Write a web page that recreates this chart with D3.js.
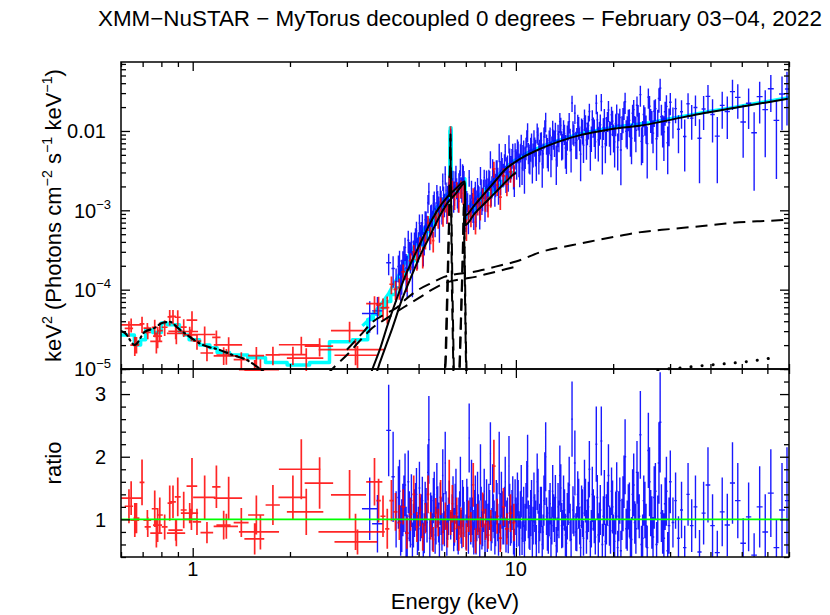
<!DOCTYPE html>
<html><head><meta charset="utf-8">
<script src="https://cdn.jsdelivr.net/npm/d3@7/dist/d3.min.js"></script>
<style>
body{margin:0;background:#fff}
svg{font-family:"Liberation Sans",Arial,Helvetica,sans-serif}
</style></head>
<body><svg id="c" width="830" height="615"></svg>
<script>
// ---------------- DATA ----------------
const titleText = "XMM\u2212NuSTAR \u2212 MyTorus decoupled 0 degrees \u2212 February 03\u221204, 2022";
const xLabel = "Energy (keV)";
const yTopLabel = [["keV",0],["2",1],[" (Photons cm",0],["\u22122",1],[" s",0],["\u22121",1],[" keV",0],["\u22121",1],[")",0]];
const yBotLabel = "ratio";
const xTickVals = [1, 10];
const xTickText = ["1", "10"];
const yTopTickVals = [0.01, 1e-3, 1e-4, 1e-5];
const yTopTickText = [[["0.01",0]], [["10",0],["\u22123",1]], [["10",0],["\u22124",1]], [["10",0],["\u22125",1]]];
const yBotTickVals = [1, 2, 3];
const yBotTickText = ["1", "2", "3"];

// spectral bins: [E (keV), half width (keV), E^2 f(E), data/model ratio, ratio error]
const xmmSoft = [
[0.645,0.048,3.6e-5,1.34,0.27],[0.635,0.019,3.26e-5,1.21,0.27],[0.662,0.021,2.0e-5,0.99,0.27],
[0.670,0.014,2.05e-5,1.02,0.24],[0.697,0.012,3.7e-5,1.59,0.365],[0.724,0.02,3.27e-5,0.99,0.16],
[0.726,0.016,2.9e-5,0.88,0.16],[0.772,0.033,2.23e-5,0.78,0.23],[0.763,0.016,3.34e-5,1.17,0.29],
[0.791,0.017,3.05e-5,1.07,0.28],[0.779,0.025,2.6e-5,0.91,0.27],[0.819,0.017,3.36e-5,0.88,0.2],
[0.849,0.013,4.54e-5,1.26,0.28],[0.869,0.018,4.6e-5,1.28,0.26],[0.890,0.058,2.81e-5,0.78,0.21],
[0.899,0.019,4.49e-5,1.36,0.31],[0.886,0.045,2.99e-5,0.83,0.17],[0.938,0.02,3.38e-5,1.15,0.29],
[0.995,0.038,4.12e-5,1.53,0.45],[0.979,0.06,2.97e-5,1.10,0.16],[0.991,0.047,2.69e-5,1.0,0.17],
[1.031,0.031,2.24e-5,0.96,0.21],[1.089,0.086,2.72e-5,1.35,0.35],[1.107,0.05,1.59e-5,0.79,0.17],
[1.184,0.035,2.5e-5,1.52,0.34],[1.292,0.13,2.01e-5,1.34,0.34],[1.247,0.063,1.5e-5,0.91,0.23],
[1.271,0.11,1.46e-5,0.89,0.2],[1.414,0.075,1.31e-5,0.95,0.23],[1.62,0.23,9.8e-6,0.80,0.28],
[1.555,0.11,9.5e-6,0.69,0.25],[1.574,0.09,1.47e-5,1.07,0.31],[1.771,0.09,1.51e-5,1.23,0.32],
[2.042,0.2,1.52e-5,1.35,0.35],[2.168,0.32,2.02e-5,1.80,0.48],[2.246,0.29,1.37e-5,1.12,0.37],
[2.47,0.25,1.94e-5,1.58,0.41],[3.058,0.38,3.05e-5,1.39,0.40],[3.19,0.74,1.75e-5,0.80,0.29],
[3.236,0.49,1.49e-5,0.64,0.2],[3.652,0.21,6.68e-5,1.60,0.38]
];
const xmmHard = [
[3.76,0.06,6.4e-5,1.30,0.35],[3.88,0.07,5.9e-5,1.05,0.33],[4.00,0.06,5.95e-5,0.85,0.32],
[4.12,0.06,1.17e-4,1.30,0.33],[4.24,0.06,1.01e-4,1.12,0.30],[4.36,0.06,1.06e-4,0.95,0.28],
[4.48,0.06,1.68e-4,1.20,0.28],[4.60,0.06,1.37e-4,0.78,0.25],[4.72,0.06,2.32e-4,1.08,0.26],
[4.83,0.05,3.0e-4,1.40,0.30],[4.94,0.05,2.38e-4,0.88,0.24],[5.05,0.05,3.8e-4,1.15,0.26],
[5.15,0.05,2.66e-4,0.72,0.22],[5.25,0.05,4.18e-4,1.02,0.24],[5.35,0.05,7.0e-4,1.40,0.30],
[5.45,0.05,4.95e-4,0.90,0.22],[5.55,0.05,4.15e-4,0.68,0.20],[5.65,0.05,8.1e-4,1.10,0.24],
[5.75,0.05,7.6e-4,0.95,0.22],[5.85,0.05,1.19e-3,1.35,0.28],[5.95,0.05,8.3e-4,0.80,0.20],
[6.05,0.05,1.19e-3,1.05,0.22],[6.14,0.04,9.2e-4,0.75,0.20],[6.22,0.03,2.2e-3,1.60,0.35],
[6.28,0.03,9.5e-3,0.95,0.20],[6.36,0.05,1.9e-3,1.25,0.30],[6.46,0.05,1.36e-3,0.85,0.22],
[6.56,0.05,1.85e-3,1.10,0.25],[6.66,0.05,1.3e-3,0.70,0.20],[6.76,0.05,1.9e-3,0.95,0.24],
[6.87,0.05,1.64e-3,0.78,0.22],[7.03,0.05,5.9e-4,0.72,0.22],[7.14,0.05,9.45e-4,1.05,0.25],
[7.26,0.06,8.4e-4,0.88,0.24],[7.38,0.06,1.55e-3,1.55,0.35],[7.50,0.06,7.1e-4,0.66,0.20],
[7.62,0.06,1.15e-3,1.00,0.25],[7.76,0.07,1.02e-3,0.82,0.22],[7.90,0.07,1.52e-3,1.15,0.28],
[8.05,0.08,1.32e-3,0.92,0.25],[8.20,0.08,1.15e-3,0.75,0.22],[8.36,0.08,1.49e-3,0.90,0.25],
[8.55,0.10,3.33e-3,1.85,0.42],[8.75,0.10,2.07e-3,1.05,0.28],[8.95,0.10,1.47e-3,0.70,0.22],
[9.15,0.10,2.72e-3,1.20,0.30],[9.38,0.12,2.13e-3,0.85,0.25],[9.62,0.12,3.05e-3,1.10,0.30],
[9.86,0.12,2.85e-3,0.95,0.30]
];
const nustarLow = [
[3.53,0.19,5.0e-5,1.17,0.5],[3.73,0.14,5.4e-5,0.93,0.46],[4.04,0.07,2.18e-4,2.42,0.73],
[4.17,0.05,1.85e-4,1.68,0.72],[4.26,0.04,1.27e-4,1.0,0.45],[4.33,0.035,1.96e-4,1.35,0.5],
[4.40,0.035,1.39e-4,0.82,0.4],[4.47,0.035,2.24e-4,1.15,0.42],[4.54,0.035,3.4e-4,1.55,0.5],
[4.61,0.035,1.74e-4,0.7,0.38],[4.68,0.035,2.9e-4,1.05,0.4],[4.75,0.035,3.97e-4,1.3,0.42],
[4.82,0.035,3.0e-4,0.9,0.35],[4.89,0.035,4.5e-4,1.2,0.38],[4.96,0.035,3.15e-4,0.75,0.32],
[5.03,0.035,6.9e-4,1.5,0.42],[5.10,0.035,5.35e-4,1.05,0.35],[5.17,0.035,3.64e-4,0.65,0.3],
[5.24,0.035,7.6e-4,1.25,0.35],[5.31,0.035,6.4e-4,0.95,0.32],[5.38,0.035,1.7e-3,2.27,0.7],
[5.45,0.035,8.9e-4,1.1,0.33],[5.52,0.035,7.2e-4,0.8,0.3],[5.59,0.035,1.37e-3,1.4,0.36],
[5.66,0.035,9.5e-4,0.9,0.3],[5.73,0.035,1.37e-3,1.2,0.33],[5.80,0.035,7.3e-4,0.6,0.28],
[5.87,0.035,1.37e-3,1.05,0.3],[5.94,0.035,2.33e-3,1.7,0.42],[6.01,0.035,1.22e-3,0.85,0.28],
[6.08,0.035,1.78e-3,1.15,0.3],[6.15,0.035,1.56e-3,0.95,0.28],[6.22,0.035,2.2e-3,1.3,0.32],
[6.285,0.03,8.55e-3,0.9,0.22],[6.35,0.035,1.98e-3,1.1,0.3],[6.42,0.035,1.43e-3,0.75,0.26],
[6.49,0.035,2.48e-3,1.25,0.32],[6.56,0.035,1.96e-3,0.95,0.28],[6.63,0.035,1.45e-3,0.68,0.24],
[6.70,0.035,2.53e-3,1.15,0.3],[6.77,0.035,2.0e-3,0.88,0.27],[6.84,0.035,3.03e-3,1.3,0.33],
[6.91,0.035,2.45e-3,1.0,0.28],[7.01,0.04,8.2e-4,0.8,0.28],[7.09,0.04,1.3e-3,1.2,0.32],
[7.17,0.04,2.6e-3,2.3,0.55],[7.25,0.04,1.06e-3,0.9,0.3],[7.33,0.04,1.29e-3,1.05,0.3],
[7.41,0.04,9.0e-4,0.7,0.26],[7.49,0.04,1.82e-3,1.35,0.35],[7.57,0.04,1.35e-3,0.95,0.3],
[7.65,0.04,1.63e-3,1.1,0.3],[7.73,0.04,9.6e-4,0.62,0.25],[7.81,0.04,1.94e-3,1.2,0.32],
[7.89,0.045,1.45e-3,0.85,0.28],[7.98,0.045,2.6e-3,1.45,0.36],[8.07,0.045,1.88e-3,1.0,0.3],
[8.16,0.045,1.48e-3,0.75,0.27],[8.25,0.045,2.59e-3,1.25,0.32],[8.34,0.045,4.45e-3,2.05,0.5],
[8.43,0.045,2.05e-3,0.9,0.28],[8.52,0.045,2.64e-3,1.1,0.3],[8.61,0.045,1.76e-3,0.7,0.26],
[8.70,0.045,3.42e-3,1.3,0.33],[8.79,0.045,2.62e-3,0.95,0.3],[8.88,0.045,5.47e-3,1.9,0.5],
[8.97,0.045,2.4e-3,0.8,0.28],[9.07,0.05,3.62e-3,1.15,0.3],[9.17,0.05,2.93e-3,0.88,0.28],
[9.27,0.05,5.5e-3,1.6,0.4],[9.37,0.05,3.58e-3,1.0,0.3],[9.47,0.05,2.68e-3,0.72,0.26],
[9.57,0.05,4.8e-3,1.25,0.32],[9.67,0.05,3.65e-3,0.92,0.3],[9.78,0.055,5.5e-3,1.35,0.34],
[9.89,0.055,2.53e-3,0.6,0.25]
];
const nustarMid = [
[10.0,0.055,4.57e-3,1.05,0.3],[10.11,0.055,6.24e-3,1.4,0.35],[10.22,0.055,3.9e-3,0.85,0.28],
[10.33,0.055,5.4e-3,1.15,0.3],[10.45,0.06,3.4e-3,0.7,0.27],[10.57,0.06,5.98e-3,1.2,0.32],
[10.69,0.06,4.86e-3,0.95,0.3],[10.81,0.06,8.2e-3,1.55,0.38],[10.93,0.06,5.42e-3,1.0,0.3],
[11.05,0.06,4.33e-3,0.78,0.27],[11.18,0.065,7.4e-3,1.3,0.33],[11.31,0.065,5.2e-3,0.9,0.3],
[11.44,0.065,6.5e-3,1.1,0.3],[11.57,0.065,3.9e-3,0.65,0.26],[11.71,0.07,8.85e-3,1.45,0.36],
[11.85,0.07,5.9e-3,0.95,0.3],[11.99,0.07,7.6e-3,1.2,0.32],[12.14,0.075,5.16e-3,0.8,0.28],
[12.29,0.075,1.09e-2,1.65,0.42],[12.44,0.075,7.0e-3,1.05,0.3],[12.6,0.08,4.93e-3,0.72,0.27],
[12.76,0.08,8.75e-3,1.25,0.33],[12.92,0.08,6.4e-3,0.9,0.3],[13.08,0.08,8.0e-3,1.1,0.3],
[13.25,0.085,1.0e-2,1.35,0.36],[13.42,0.085,5.66e-3,0.75,0.28],[13.59,0.085,7.7e-3,1.0,0.3],
[13.77,0.09,1.17e-2,1.5,0.38],[13.95,0.09,6.76e-3,0.85,0.3],[14.14,0.095,9.3e-3,1.15,0.33],
[14.33,0.095,5.08e-3,0.62,0.27],[14.52,0.1,1.04e-2,1.25,0.34],[14.72,0.1,8.08e-3,0.95,0.3],
[14.92,0.1,2.25e-2,2.6,0.6],[15.12,0.1,9.24e-3,1.05,0.32],[15.33,0.105,7.1e-3,0.8,0.3],
[15.54,0.105,1.27e-2,1.4,0.37],[15.75,0.11,8.3e-3,0.9,0.3],[15.97,0.11,1.12e-2,1.2,0.34],
[16.19,0.11,6.6e-3,0.7,0.28],[16.42,0.115,1.24e-2,1.3,0.35],[16.65,0.115,9.7e-3,1.0,0.32],
[16.88,0.12,1.76e-2,1.8,0.45],[17.12,0.12,8.4e-3,0.85,0.3],[17.36,0.12,1.15e-2,1.15,0.33],
[17.61,0.125,7.3e-3,0.72,0.28],[17.86,0.125,1.38e-2,1.35,0.36],[18.12,0.13,9.8e-3,0.95,0.32],
[18.38,0.13,2.35e-2,2.25,0.55],[18.65,0.135,1.11e-2,1.05,0.32],[18.92,0.135,6.9e-3,0.65,0.28],
[19.2,0.14,1.35e-2,1.25,0.35],[19.48,0.14,9.8e-3,0.9,0.32],[19.77,0.145,1.6e-2,1.45,0.38],
[20.06,0.145,8.7e-3,0.78,0.3],[20.36,0.15,1.24e-2,1.1,0.34],[20.66,0.15,6.24e-3,0.55,0.27],
[20.97,0.155,1.48e-2,1.3,0.37],[21.29,0.16,1.15e-2,1.0,0.33],[21.61,0.16,1.86e-2,1.6,0.42],
[21.94,0.165,9.9e-3,0.85,0.32],[22.28,0.17,1.42e-2,1.2,0.36],[22.62,0.17,8.3e-3,0.7,0.3],
[22.97,0.175,1.67e-2,1.4,0.4],[23.33,0.18,1.14e-2,0.95,0.34],[23.7,0.19,2.11e-2,1.75,0.5],
[24.08,0.19,1.27e-2,1.05,0.35],[24.47,0.2,7.4e-3,0.6,0.3],[24.87,0.2,1.61e-2,1.3,0.4],
[25.28,0.21,1.13e-2,0.9,0.35],[25.7,0.21,2.67e-2,2.1,0.6],[26.13,0.22,1.42e-2,1.1,0.37],
[26.57,0.22,9.4e-3,0.72,0.32],[27.02,0.23,1.91e-2,1.45,0.45],[27.48,0.24,1.34e-2,1.0,0.38],
[27.95,0.25,3.47e-2,2.55,0.8],[28.45,0.25,1.1e-2,0.8,0.35],[28.96,0.26,1.75e-2,1.25,0.42],
[29.5,0.27,7.1e-3,0.5,0.3]
];
const nustarHigh = [
[30.05,0.28,2.3e-2,1.6,0.5],[30.62,0.29,1.39e-2,0.95,0.4],[31.2,0.3,1.91e-2,1.3,0.45],
[31.85,0.35,1.05e-2,0.7,0.35],[32.55,0.35,1.75e-2,1.15,0.45],[33.3,0.4,8.5e-3,0.55,0.35],
[34.1,0.4,2.2e-2,1.4,0.5],[35.0,0.45,1.45e-2,0.9,0.42],[35.95,0.5,1.98e-2,1.2,0.5],
[37.0,0.55,8.1e-3,0.48,0.35],[38.1,0.55,1.89e-2,1.1,0.5],[39.3,0.65,2.73e-2,1.55,0.6],
[40.6,0.65,1.61e-2,0.9,0.5],[42.0,0.75,8.6e-3,0.47,0.35],[43.5,0.75,2.1e-2,1.12,0.55],
[45.1,0.85,1.76e-2,0.91,0.5],[46.8,0.85,3.13e-2,1.58,0.65],[48.6,0.95,2.65e-2,1.3,0.6],
[50.5,1.0,1.3e-2,0.62,0.4],[52.5,1.0,2.24e-2,1.04,0.55],[54.6,1.1,9.5e-3,0.43,0.35],
[56.8,1.2,2.71e-2,1.2,0.65],[59.1,1.2,1.86e-2,0.8,0.6],[61.5,1.3,3.41e-2,1.42,0.7],
[64.0,1.3,1.36e-2,0.55,0.45],[66.6,1.4,2.93e-2,1.15,0.75],[69.0,1.0,3.38e-2,1.3,0.85]
];
// second NuSTAR module, interleaved bins
const nustarB = [
[4.365,0.035,2.3e-4,1.45,0.5],[4.435,0.035,1.62e-4,0.9,0.42],[4.505,0.035,2.6e-4,1.25,0.45],
[4.575,0.035,1.88e-4,0.8,0.4],[4.645,0.035,4.2e-4,1.6,0.5],[4.715,0.035,2.76e-4,0.95,0.4],
[4.785,0.035,1.92e-4,0.6,0.35],[4.855,0.035,3.9e-4,1.1,0.38],[4.925,0.035,5.5e-4,1.4,0.42],
[4.995,0.035,3.74e-4,0.85,0.35],[5.065,0.035,4.85e-4,1.0,0.35],[5.135,0.035,6.9e-4,1.3,0.38],
[5.205,0.035,4.56e-4,0.78,0.32],[5.275,0.035,7.4e-4,1.15,0.35],[5.345,0.035,1.24e-3,1.75,0.45],
[5.415,0.035,5.5e-4,0.7,0.3],[5.485,0.035,9.0e-4,1.05,0.33],[5.555,0.035,1.22e-3,1.3,0.36],
[5.625,0.035,7.6e-4,0.75,0.3],[5.695,0.035,1.65e-3,1.5,0.4],[5.765,0.035,1.12e-3,0.95,0.32],
[5.835,0.035,1.58e-3,1.25,0.34],[5.905,0.035,1.06e-3,0.8,0.3],[5.975,0.035,1.55e-3,1.1,0.32],
[6.045,0.035,2.85e-3,1.9,0.5],[6.115,0.035,1.12e-3,0.7,0.28],[6.185,0.035,1.75e-3,1.05,0.3],
[6.39,0.035,2.52e-3,1.35,0.34],[6.455,0.035,1.72e-3,0.88,0.3],[6.525,0.035,2.93e-3,1.45,0.36],
[6.595,0.035,1.64e-3,0.78,0.28],[6.665,0.035,2.28e-3,1.05,0.3],[6.735,0.035,3.58e-3,1.6,0.4],
[6.805,0.035,1.89e-3,0.82,0.28],[6.875,0.035,2.88e-3,1.2,0.32],[7.05,0.04,1.38e-3,1.3,0.35],
[7.13,0.04,8.3e-4,0.75,0.3],[7.21,0.04,1.22e-3,1.05,0.3],[7.29,0.04,1.88e-3,1.55,0.4],
[7.37,0.04,1.07e-3,0.85,0.3],[7.45,0.04,1.53e-3,1.15,0.32],[7.53,0.04,1.0e-3,0.72,0.28],
[7.61,0.04,2.03e-3,1.4,0.36],[7.69,0.04,1.53e-3,1.0,0.3],[7.77,0.04,2.8e-3,1.75,0.45],
[7.85,0.04,1.34e-3,0.8,0.28],[7.935,0.045,1.91e-3,1.1,0.3],[8.025,0.045,1.19e-3,0.65,0.26],
[8.115,0.045,2.51e-3,1.3,0.34],[8.205,0.045,1.92e-3,0.95,0.3],[8.295,0.045,2.44e-3,1.15,0.32],
[8.385,0.045,1.74e-3,0.78,0.28],[8.475,0.045,3.51e-3,1.5,0.38],[8.565,0.045,2.45e-3,1.0,0.3],
[8.655,0.045,2.18e-3,0.85,0.28],[8.745,0.045,3.38e-3,1.25,0.33],[8.835,0.045,1.9e-3,0.68,0.26],
[8.925,0.045,3.25e-3,1.1,0.32],[9.02,0.05,4.3e-3,1.4,0.36],[9.12,0.05,2.9e-3,0.9,0.3],
[9.22,0.05,4.03e-3,1.2,0.32],[9.32,0.05,2.63e-3,0.75,0.28],[9.42,0.05,3.82e-3,1.05,0.3],
[9.52,0.05,7.0e-3,1.85,0.48],[9.62,0.05,3.43e-3,0.88,0.3],[9.725,0.055,4.62e-3,1.15,0.32],
[9.835,0.055,2.99e-3,0.72,0.28],[9.945,0.055,5.56e-3,1.3,0.34],
[10.055,0.055,3.97e-3,0.9,0.35],[10.165,0.055,5.65e-3,1.25,0.38],[10.275,0.055,3.48e-3,0.75,0.33],
[10.39,0.06,6.93e-3,1.45,0.42],[10.51,0.06,4.91e-3,1.0,0.36],[10.63,0.06,3.13e-3,0.62,0.3],
[10.75,0.06,6.24e-3,1.2,0.38],[10.87,0.06,9.88e-3,1.85,0.5],[10.99,0.06,4.82e-3,0.88,0.35],
[11.115,0.065,6.16e-3,1.1,0.37],[11.245,0.065,4.01e-3,0.7,0.32],[11.375,0.065,7.9e-3,1.35,0.4],
[11.505,0.065,5.65e-3,0.95,0.35],[11.64,0.07,9.68e-3,1.6,0.45],[11.78,0.07,4.92e-3,0.8,0.34],
[11.92,0.07,7.21e-3,1.15,0.37],[12.065,0.075,3.84e-3,0.6,0.3],[12.215,0.075,8.48e-3,1.3,0.4],
[12.365,0.075,1.33e-2,2.0,0.55],[12.52,0.08,5.76e-3,0.85,0.35],[12.68,0.08,7.61e-3,1.1,0.37],
[12.84,0.08,4.94e-3,0.7,0.33],[13.0,0.08,1.04e-2,1.45,0.42],[13.165,0.085,7.32e-3,1.0,0.36],
[13.335,0.085,4.32e-3,0.58,0.3],[13.505,0.085,9.12e-3,1.2,0.38],[13.68,0.09,1.31e-2,1.7,0.48],
[13.86,0.09,7.07e-3,0.9,0.36],[14.045,0.095,1.04e-2,1.3,0.4],[14.235,0.095,6.1e-3,0.75,0.34],
[14.425,0.095,8.68e-3,1.05,0.37],[14.62,0.1,1.31e-2,1.55,0.45],[14.82,0.1,5.83e-3,0.68,0.33],
[15.02,0.1,1.0e-2,1.15,0.38],[15.225,0.105,1.68e-2,1.9,0.52],[15.435,0.105,7.65e-3,0.85,0.36],
[15.645,0.105,1.14e-2,1.25,0.4],[15.86,0.11,5.1e-3,0.55,0.3],[16.08,0.11,1.03e-2,1.1,0.38],
[16.305,0.115,1.43e-2,1.5,0.45],[16.535,0.115,7.7e-3,0.8,0.35],[16.765,0.115,1.17e-2,1.2,0.4],
[17.0,0.12,6.4e-3,0.65,0.33],[17.24,0.12,1.39e-2,1.4,0.44],[17.485,0.125,1.01e-2,1.0,0.38],
[17.735,0.125,2.24e-2,2.2,0.6],[17.99,0.13,7.73e-3,0.75,0.35],[18.25,0.13,1.2e-2,1.15,0.4],
[18.515,0.135,6.3e-3,0.6,0.33],[18.785,0.135,1.43e-2,1.35,0.44],[19.06,0.14,1.07e-2,1.0,0.4],
[19.34,0.14,1.84e-2,1.7,0.5],[19.625,0.145,9.02e-3,0.82,0.37],[19.915,0.145,1.33e-2,1.2,0.42],
[20.21,0.15,7.28e-3,0.65,0.34],[20.51,0.15,1.64e-2,1.45,0.46],[20.815,0.155,1.2e-2,1.05,0.4],
[21.13,0.16,5.75e-3,0.5,0.32],[21.45,0.16,1.44e-2,1.25,0.44],[21.775,0.165,2.33e-2,2.0,0.6],
[22.11,0.17,1.06e-2,0.9,0.4],[22.45,0.17,1.36e-2,1.15,0.44],[22.795,0.175,8.09e-3,0.68,0.36],
[23.15,0.18,1.86e-2,1.55,0.5],[23.515,0.185,1.02e-2,0.85,0.4],[23.89,0.19,1.57e-2,1.3,0.46],
[24.275,0.195,2.87e-2,2.35,0.7],[24.67,0.2,8.65e-3,0.7,0.38],[25.075,0.2,1.43e-2,1.15,0.45],
[25.49,0.21,6.93e-3,0.55,0.35],[25.915,0.215,2.05e-2,1.6,0.55],[26.35,0.22,1.24e-2,0.95,0.42],
[26.795,0.225,1.78e-2,1.35,0.5],[27.25,0.23,7.98e-3,0.6,0.36],[27.715,0.235,2.57e-2,1.9,0.65],
[28.2,0.245,1.51e-2,1.1,0.46],[28.705,0.25,9.73e-3,0.7,0.4],[29.23,0.26,2.04e-2,1.45,0.55],
[29.775,0.27,1.28e-2,0.9,0.45]
];

// total model (cyan): XMM step histogram (bin edges + values), NuSTAR curve
const cyanXmmEdges = [0.60,0.66,0.69,0.715,0.752,0.80,0.834,0.91,0.94,0.975,1.05,1.13,1.19,1.30,1.48,1.68,1.96,2.30,2.65,3.12,3.48,3.62,3.80,3.95,4.10,4.25,4.40,4.55,4.70,4.85,5.0,5.15,5.3,5.45,5.6,5.75,5.9,6.05,6.2,6.25,6.31,6.45,6.6,6.75,6.96,7.1,7.25,7.4,7.6,7.8,8.0,8.25,8.5,8.75,9.0,9.3,9.6,10.0];
const cyanXmmVals = [2.69e-5,2.01e-5,2.33e-5,3.12e-5,2.88e-5,3.8e-5,3.61e-5,2.9e-5,2.69e-5,2.33e-5,2.01e-5,1.85e-5,1.62e-5,1.5e-5,1.39e-5,1.21e-5,1.12e-5,1.21e-5,2.2e-5,2.33e-5,4.2e-5,4.9e-5,5.9e-5,7.1e-5,8.7e-5,1.06e-4,1.4e-4,1.8e-4,2.3e-4,2.9e-4,3.6e-4,4.4e-4,5.4e-4,6.6e-4,8.0e-4,9.6e-4,1.12e-3,1.3e-3,1.45e-3,1.0e-2,1.6e-3,1.73e-3,1.95e-3,2.2e-3,8.0e-4,8.7e-4,9.6e-4,1.06e-3,1.18e-3,1.3e-3,1.45e-3,1.63e-3,1.83e-3,2.05e-3,2.3e-3,2.62e-3,2.98e-3];
const cyanNuE = [3.35,3.53,3.73,3.9,4.04,4.2,4.3,4.4,4.5,4.6,4.7,4.8,4.9,5.0,5.1,5.2,5.3,5.4,5.5,5.6,5.7,5.8,5.9,6.0,6.1,6.2,6.25,6.26,6.31,6.32,6.4,6.5,6.6,6.7,6.8,6.9,6.96,6.97,7.1,7.3,7.5,7.7,8.0,8.3,8.6,9.0,9.5,10.0,10.5,11.0,11.83,13.0,14.2,15.8,17.3,19.0,20.9,23.2,26,30,34.5,40,46,53,59,65,70];
const cyanNuF = [3.5e-5,4.3e-5,5.8e-5,7.3e-5,9.0e-5,1.2e-4,1.41e-4,1.7e-4,2.07e-4,2.44e-4,2.85e-4,3.28e-4,3.8e-4,4.4e-4,5.1e-4,5.8e-4,6.6e-4,7.76e-4,8.8e-4,9.9e-4,1.11e-3,1.22e-3,1.33e-3,1.43e-3,1.58e-3,1.69e-3,1.74e-3,1.1e-2,1.1e-2,1.8e-3,1.88e-3,2.0e-3,2.1e-3,2.2e-3,2.3e-3,2.45e-3,2.5e-3,1.0e-3,1.09e-3,1.22e-3,1.37e-3,1.54e-3,1.81e-3,2.13e-3,2.5e-3,3.05e-3,3.75e-3,4.35e-3,4.9e-3,5.5e-3,6.2e-3,7.2e-3,8.1e-3,9.25e-3,1.0e-2,1.07e-2,1.14e-2,1.2e-2,1.28e-2,1.43e-2,1.59e-2,1.78e-2,1.95e-2,2.16e-2,2.33e-2,2.5e-2,2.63e-2];

// model components (black)
const transNuE = [3.45,3.60,3.79,4.01,4.27,4.52,4.79,5.07,5.40,5.76,6.14,6.50,6.96,6.97,7.45,7.98,8.6,9.22,10.26,11.83,13.64,15.72,18.13,20.9,24.1,29.8,36.95,49.1,60.8,69.4];
const transNuF = [6e-6,1e-5,1.74e-5,3.6e-5,7.5e-5,1.4e-4,2.4e-4,3.9e-4,6.6e-4,1.05e-3,1.48e-3,1.85e-3,2.3e-3,8.6e-4,1.16e-3,1.61e-3,2.3e-3,3.2e-3,4.4e-3,5.9e-3,7.4e-3,8.8e-3,9.9e-3,1.09e-2,1.16e-2,1.37e-2,1.64e-2,2.0e-2,2.32e-2,2.54e-2];
const transXmmE = [3.62,3.73,3.92,4.15,4.42,4.79,5.07,5.40,5.76,6.14,6.50,6.96,6.97,7.45,8.17,8.9,9.7,10.0];
const transXmmF = [6e-6,9.7e-6,1.74e-5,3.3e-5,7.1e-5,1.6e-4,2.77e-4,4.6e-4,7.9e-4,1.23e-3,1.6e-3,2.2e-3,6.5e-4,9.1e-4,1.33e-3,1.9e-3,2.7e-3,3.0e-3];
const scatXmmE = [2.60,2.8,3.0,3.3,3.6,4.0,4.5,5.0,5.5,6.0,6.4,7.0,7.5,8.0,9.0,10.0];
const scatXmmF = [8.5e-6,1.15e-5,1.5e-5,2.3e-5,3.3e-5,4.4e-5,6.0e-5,7.8e-5,1.0e-4,1.2e-4,1.3e-4,1.38e-4,1.45e-4,1.55e-4,1.75e-4,1.95e-4];
const scatNuE = [3.0,3.3,3.6,4.0,4.27,4.5,5.0,5.5,6.0,6.4,7.0,7.5,8.0,9.0,10.0,12,15,17,20,24,30,35,40,49,57,65,68];
const scatNuF = [1.75e-5,2.65e-5,3.9e-5,5.1e-5,5.9e-5,7.2e-5,1.0e-4,1.22e-4,1.45e-4,1.55e-4,1.62e-4,1.69e-4,1.8e-4,2.03e-4,2.26e-4,3.0e-4,3.65e-4,4.05e-4,4.6e-4,5.27e-4,5.8e-4,6.15e-4,6.5e-4,7.05e-4,7.3e-4,7.47e-4,7.55e-4];
const kaXmmE = [5.98,6.05,6.14,6.22,6.27,6.30,6.34,6.42];
const kaXmmF = [6e-6,1.2e-5,1.3e-4,1.0e-3,8.0e-3,1.5e-3,1.0e-4,6e-6];
const kaNuE = [6.0,6.08,6.17,6.23,6.275,6.31,6.36,6.44];
const kaNuF = [6e-6,1.5e-5,1.6e-4,1.2e-3,9.0e-3,1.6e-3,1.2e-4,6e-6];
const kbXmmE = [6.66,6.74,6.83,6.90,6.94,7.0,7.04];
const kbXmmF = [6e-6,3e-5,2e-4,1.1e-3,2e-4,1.5e-5,6e-6];
const kbNuE = [6.68,6.76,6.85,6.91,6.95,7.01,7.06];
const kbNuF = [6e-6,3.5e-5,2.3e-4,1.25e-3,2.3e-4,1.8e-5,6e-6];
const softE = [0.60,0.616,0.662,0.71,0.752,0.808,0.849,0.899,0.979,1.074,1.212,1.329,1.469,1.634,1.79];
const softF = [3.0e-5,2.86e-5,2.01e-5,2.94e-5,3.21e-5,3.82e-5,3.94e-5,3.3e-5,2.54e-5,2.01e-5,1.74e-5,1.5e-5,1.3e-5,9.7e-6,7.5e-6];
const dotE = [27.5,29.4,32.0,37.7,44.8,51.9,62.0];
const dotF = [9.6e-6,1.0e-5,1.03e-5,1.1e-5,1.17e-5,1.24e-5,1.38e-5];

// ---------------- LAYOUT ----------------
const L=121, R=789, T=62, MID=369, BOT=557;
const FS=20, FSL=22.4;
const svg = d3.select('#c');
const x  = d3.scaleLog().domain([0.6,70]).range([L,R]);
const yT = d3.scaleLog().domain([1e-5,0.074]).range([MID,T]);
const yB = d3.scaleLinear().domain([0.4,3.4]).range([BOT,MID]);

const defs = svg.append('defs');
defs.append('clipPath').attr('id','cT').append('rect').attr('x',L).attr('y',T).attr('width',R-L).attr('height',MID-T+2);
defs.append('clipPath').attr('id','cB').append('rect').attr('x',L).attr('y',MID).attr('width',R-L).attr('height',BOT-MID);
const gT = svg.append('g').attr('clip-path','url(#cT)');
const gB = svg.append('g').attr('clip-path','url(#cB)');

const pairs = (E,F)=>E.map((e,i)=>[e,F[i]]);
const lineT = d3.line().x(d=>x(d[0])).y(d=>yT(d[1]));
const lineTm = d3.line().x(d=>x(d[0])).y(d=>yT(d[1])).curve(d3.curveMonotoneX);

function drawPath(g, d, color, w, dash){
  const p = g.append('path').attr('d',d).attr('fill','none').attr('stroke',color)
    .attr('stroke-width',w).attr('stroke-linejoin','round');
  if (dash) p.attr('stroke-dasharray',dash);
  return p;
}

// cyan total models
const stepPts = cyanXmmVals.map((v,i)=>[cyanXmmEdges[i],v]).concat([[cyanXmmEdges[cyanXmmEdges.length-1], cyanXmmVals[cyanXmmVals.length-1]]]);
drawPath(gT, d3.line().x(d=>x(d[0])).y(d=>yT(d[1])).curve(d3.curveStepAfter)(stepPts), '#00ffff', 3.5);
drawPath(gT, lineT(pairs(cyanNuE,cyanNuF)), '#00ffff', 3.2);

// data crosses
function crosses(g, rows, ratio, color, w, op){
  const p = d3.path();
  rows.forEach(([E,dE,F,r,e])=>{
    let v, lo, hi, ys;
    if (ratio){ v=r; lo=r-e; hi=r+e; ys=yB; }
    else { const rel=e/r; v=F; hi=F*(1+rel); lo = rel<0.98 ? F*(1-rel) : 1e-7; ys=yT; }
    const yv = ys(v);
    p.moveTo(x(E-dE), yv); p.lineTo(x(E+dE), yv);
    p.moveTo(x(E), ys(lo)); p.lineTo(x(E), ys(hi));
  });
  g.append('path').attr('d',p.toString()).attr('fill','none').attr('stroke',color)
    .attr('stroke-width',w).attr('stroke-opacity',op);
}
const xmmAll = xmmSoft.concat(xmmHard);
const nuAll = nustarLow.concat(nustarB, nustarMid, nustarHigh);
crosses(gT, nuAll, false, '#0000ff', 1.4, 0.9);
crosses(gT, xmmAll, false, '#ff0000', 1.7, 0.85);
crosses(gB, nuAll, true, '#0000ff', 1.4, 0.9);
crosses(gB, xmmAll, true, '#ff0000', 1.7, 0.85);

// black model components
drawPath(gT, lineTm(pairs(transNuE,transNuF)), '#000', 2);
drawPath(gT, lineTm(pairs(transXmmE,transXmmF)), '#000', 2);
drawPath(gT, lineTm(pairs(scatXmmE,scatXmmF)), '#000', 2, '12,7');
drawPath(gT, lineTm(pairs(scatNuE,scatNuF)), '#000', 2, '12,7');
drawPath(gT, lineT(pairs(kaXmmE,kaXmmF)), '#000', 2, '12,7');
drawPath(gT, lineT(pairs(kaNuE,kaNuF)), '#000', 2, '12,7');
drawPath(gT, lineT(pairs(kbXmmE,kbXmmF)), '#000', 2, '12,7');
drawPath(gT, lineT(pairs(kbNuE,kbNuF)), '#000', 2, '12,7');
drawPath(gT, lineTm(pairs(softE,softF)), '#000', 2.2, '8,4,1.5,4').attr('stroke-linecap','round');
drawPath(gT, lineTm(pairs(dotE,dotF)), '#000', 3, '0.1,11').attr('stroke-linecap','round');

// ratio = 1 reference line
gB.append('line').attr('x1',L).attr('x2',R).attr('y1',yB(1)).attr('y2',yB(1))
  .attr('stroke','#00ff00').attr('stroke-width',1.6);

// ---------------- AXES ----------------
const isPow10 = v => Math.abs(Math.log10(v)-Math.round(Math.log10(v)))<1e-6;
const xAll = x.ticks();
const xMinor = xAll.filter(v=>!isPow10(v)), xMajor = xAll.filter(isPow10);
const yTAll = yT.ticks();
const yTMinor = yTAll.filter(v=>!isPow10(v)), yTMajor = yTAll.filter(isPow10);
const yBMinor = d3.range(0.4,3.41,0.2).filter(v=>Math.abs(v-Math.round(v))>1e-6);
const yBMajor = yBotTickVals;

function ticks(axisFn, scale, vals, size, tx, ty){
  svg.append('g').attr('transform',`translate(${tx},${ty})`)
    .call(axisFn(scale).tickValues(vals).tickSize(size).tickFormat(''))
    .call(s=>s.select('.domain').remove())
    .selectAll('line').attr('stroke','#000').attr('stroke-width',1.3);
}
const MJ=-9, MN=-5;
// top panel
ticks(d3.axisTop, x, xMinor, MN, 0, T); ticks(d3.axisTop, x, xMajor, MJ, 0, T);
ticks(d3.axisBottom, x, xMinor, MN, 0, MID); ticks(d3.axisBottom, x, xMajor, MJ, 0, MID);
ticks(d3.axisLeft, yT, yTMinor, MN, L, 0); ticks(d3.axisLeft, yT, yTMajor, MJ, L, 0);
ticks(d3.axisRight, yT, yTMinor, MN, R, 0); ticks(d3.axisRight, yT, yTMajor, MJ, R, 0);
// bottom panel
ticks(d3.axisTop, x, xMinor, MN, 0, MID); ticks(d3.axisTop, x, xMajor, MJ, 0, MID);
ticks(d3.axisBottom, x, xMinor, MN, 0, BOT); ticks(d3.axisBottom, x, xMajor, MJ, 0, BOT);
ticks(d3.axisLeft, yB, yBMinor, MN, L, 0); ticks(d3.axisLeft, yB, yBMajor, MJ, L, 0);
ticks(d3.axisRight, yB, yBMinor, MN, R, 0); ticks(d3.axisRight, yB, yBMajor, MJ, R, 0);

// frames
[[T,MID],[MID,BOT]].forEach(([a,b])=>{
  svg.append('rect').attr('x',L).attr('y',a).attr('width',R-L).attr('height',b-a)
    .attr('fill','none').attr('stroke','#000').attr('stroke-width',1.5);
});

function rich(sel, parts, fs){
  let up=false;
  parts.forEach(([t,s])=>{
    const ts = sel.append('tspan').text(t);
    if (s){ ts.attr('font-size',fs*0.65); if(!up){ ts.attr('dy',-0.42*fs); up=true; } }
    else if (up){ ts.attr('dy',0.42*fs); up=false; }
  });
}

// tick labels
xTickVals.forEach((v,i)=>{
  svg.append('text').attr('x',x(v)).attr('y',576).attr('text-anchor','middle')
    .attr('font-size',FS).text(xTickText[i]);
});
yTopTickVals.forEach((v,i)=>{
  const parts = yTopTickText[i];
  const t = svg.append('text').attr('x', parts.length>1?111:106).attr('y',yT(v)+FS*0.36)
    .attr('text-anchor','end').attr('font-size',FS);
  rich(t, parts, FS);
});
yBotTickVals.forEach((v,i)=>{
  svg.append('text').attr('x',106).attr('y',yB(v)+FS*0.36).attr('text-anchor','end')
    .attr('font-size',FS).text(yBotTickText[i]);
});

// titles
svg.append('text').attr('x',460).attr('y',26).attr('text-anchor','middle').attr('font-size',FSL).text(titleText);
svg.append('text').attr('x',(L+R)/2).attr('y',609).attr('text-anchor','middle').attr('font-size',22).text(xLabel);
const yt = svg.append('text').attr('transform',`translate(61,${(T+MID)/2}) rotate(-90)`)
  .attr('text-anchor','middle').attr('font-size',22);
rich(yt, yTopLabel, 22);
svg.append('text').attr('transform',`translate(61,${(MID+BOT)/2}) rotate(-90)`)
  .attr('text-anchor','middle').attr('font-size',22).text(yBotLabel);
</script></body></html>
